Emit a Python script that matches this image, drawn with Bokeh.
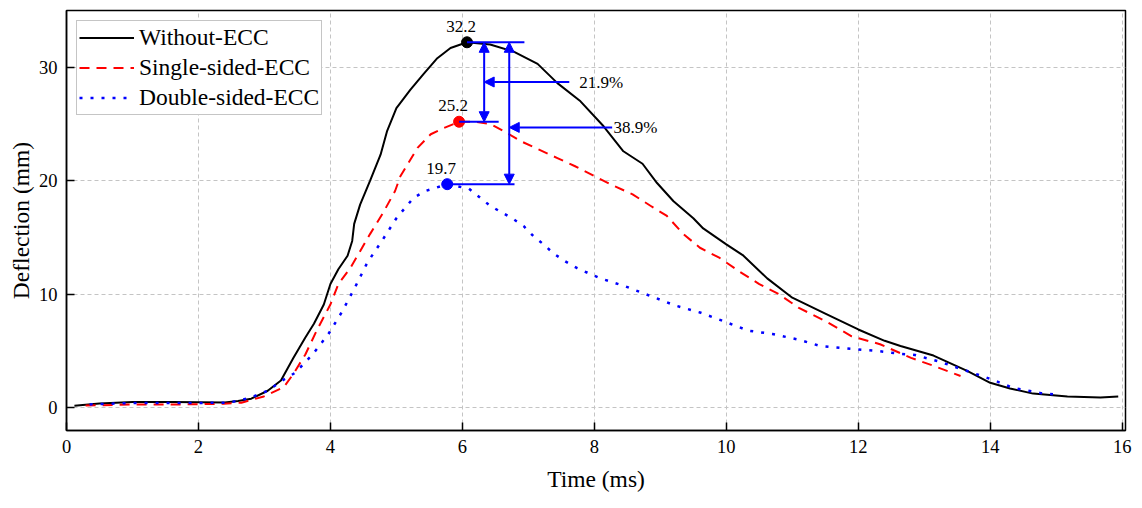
from bokeh.plotting import figure
from bokeh.models import Range1d, FixedTicker, Arrow, NormalHead, Label
from bokeh.embed import file_html
from bokeh.resources import INLINE

FONT = "Liberation Serif"

# ---- data ----
t_without = [0.12, 0.5, 1.0, 1.6, 2.4, 2.6, 2.8, 3.05, 3.25, 3.44, 3.62, 3.75, 3.9, 4.0, 4.12,
             4.26, 4.33, 4.36, 4.45, 4.6, 4.76, 4.86, 5.0, 5.21, 5.41, 5.62, 5.82, 6.07, 6.42,
             6.77, 7.14, 7.44, 7.79, 8.14, 8.44, 8.73, 8.95, 9.2, 9.5, 9.65, 10.0, 10.26, 10.62,
             11.0, 11.5, 12.0, 12.4, 12.64, 13.14, 13.65, 14.0, 14.3, 14.65, 15.17, 15.67, 15.94]
d_without = [0.18, 0.38, 0.52, 0.52, 0.47, 0.6, 0.8, 1.5, 2.4, 4.4, 6.2, 7.4, 9.1, 10.9, 12.2,
             13.4, 14.7, 16.2, 17.9, 20.0, 22.3, 24.4, 26.4, 28.0, 29.4, 30.8, 31.7, 32.2, 32.0,
             31.4, 30.3, 28.6, 27.0, 24.8, 22.6, 21.5, 19.8, 18.2, 16.7, 15.8, 14.4, 13.4, 11.4,
             9.7, 8.3, 6.9, 5.9, 5.45, 4.6, 3.25, 2.2, 1.7, 1.25, 1.0, 0.9, 1.0]

t_single = [0.29, 1.03, 1.8, 2.38, 2.65, 2.99, 3.29, 3.44, 3.62, 3.8, 4.0, 4.12, 4.3, 4.45, 4.6,
            4.8, 4.98, 5.06, 5.32, 5.52, 5.7, 5.95, 6.2, 6.42, 6.62, 6.88, 7.14, 7.44, 7.7, 8.24,
            8.58, 8.85, 9.1, 9.35, 9.6, 9.9, 10.2, 10.5, 10.8, 11.1, 11.5, 11.9, 12.33, 12.8,
            13.14, 13.55]
d_single = [0.2, 0.3, 0.3, 0.35, 0.45, 1.0, 1.8, 3.0, 4.7, 6.9, 9.1, 10.9, 12.3, 13.8, 15.3,
            17.2, 19.1, 20.4, 22.9, 24.1, 24.6, 25.2, 25.2, 25.0, 24.4, 23.5, 22.8, 22.0, 21.3, 19.7,
            18.8, 17.8, 16.9, 15.3, 14.1, 13.2, 12.0, 10.9, 10.0, 8.8, 7.65, 6.3, 5.6, 4.4,
            3.7, 2.8]

t_double = [0.35, 1.0, 1.8, 2.4, 2.6, 2.79, 3.05, 3.27, 3.47, 3.73, 3.97, 4.18, 4.38, 4.56, 4.78,
            5.0, 5.26, 5.44, 5.77, 6.1, 6.25, 6.42, 6.6, 6.78, 6.93, 7.08, 7.23, 7.38, 7.56, 7.74,
            8.09, 8.47, 8.85, 9.23, 9.6, 9.95, 10.33, 10.7, 11.1, 11.42, 11.88, 12.3, 12.64, 12.86,
            13.24, 13.62, 14.0, 14.35, 14.76, 14.95]
d_double = [0.3, 0.42, 0.42, 0.45, 0.6, 0.9, 1.5, 2.4, 3.1, 4.7, 6.5, 8.5, 10.7, 12.8, 14.7,
            16.7, 18.5, 19.1, 19.7, 19.3, 18.6, 17.8, 17.2, 16.6, 16.0, 15.1, 14.4, 13.6, 12.9, 12.3,
            11.4, 10.7, 9.85, 9.0, 8.4, 7.65, 6.8, 6.5, 6.0, 5.45, 5.2, 5.0, 4.75, 4.65,
            4.05, 3.3, 2.55, 1.75, 1.3, 1.2]

series_names = ["Without-ECC", "Single-sided-ECC", "Double-sided-ECC"]
series_colors = ["black", "#ff0000", "#0000ff"]
peak_t = [6.07, 5.95, 5.77]
peak_d = [32.2, 25.2, 19.7]
peak_labels = ["32.2", "25.2", "19.7"]
guide_end_t = [6.94, 6.55, 6.79]
reduction_labels = ["21.9%", "38.9%"]
reduction_arrow_t = [6.33, 6.71]
reduction_target_d = [25.2, 19.7]
pointer_d = [28.7, 24.7]
pointer_start_t = [7.62, 8.27]
reduction_label_t = [7.77, 8.29]

x_ticks = [0, 2, 4, 6, 8, 10, 12, 14, 16]
y_ticks = [0, 10, 20, 30]

# ---- figure ----
p = figure(width=1134, height=500, output_backend="svg", toolbar_location=None,
           x_range=Range1d(0, 16.05), y_range=Range1d(-2, 35),
           min_border_left=66, min_border_right=9, min_border_top=10, min_border_bottom=70)
p.background_fill_color = "white"
p.border_fill_color = "white"
p.outline_line_color = "black"
p.outline_line_width = 1.5
p.outline_line_alpha = 1.0

for g in (p.xgrid, p.ygrid):
    g.grid_line_color = "#c4c4c4"
    g.grid_line_dash = "4 3"
    g.grid_line_width = 1
p.xgrid.ticker = FixedTicker(ticks=x_ticks)
p.ygrid.ticker = FixedTicker(ticks=y_ticks)

p.xaxis.ticker = FixedTicker(ticks=x_ticks)
p.yaxis.ticker = FixedTicker(ticks=y_ticks)
p.xaxis.axis_label = "Time (ms)"
p.yaxis.axis_label = "Deflection (mm)"
for ax in (p.xaxis, p.yaxis):
    ax.axis_line_color = "black"
    ax.axis_line_width = 1.5
    ax.major_tick_line_color = "black"
    ax.major_tick_line_width = 1.5
    ax.major_tick_in = 8
    ax.major_tick_out = 0
    ax.minor_tick_line_color = None
    ax.major_label_text_font = FONT
    ax.major_label_text_font_size = "18.5px"
    ax.major_label_text_color = "black"
    ax.axis_label_text_font = FONT
    ax.axis_label_text_font_size = "23.5px"
    ax.axis_label_text_font_style = "normal"
    ax.axis_label_text_color = "black"
p.xaxis.major_label_standoff = 9
p.xaxis.axis_label_standoff = 10
p.yaxis.major_label_standoff = 9
p.yaxis.axis_label_standoff = 2

p.line(t_without, d_without, line_color=series_colors[0], line_width=2,
       legend_label=series_names[0])
p.line(t_single, d_single, line_color=series_colors[1], line_width=2, line_dash="10 7",
       legend_label=series_names[1])
p.line(t_double, d_double, line_color=series_colors[2], line_width=2.5, line_dash="3 8",
       legend_label=series_names[2])

# peak markers and labels
p.scatter(peak_t, peak_d, size=11, marker="circle",
          fill_color=series_colors, line_color=series_colors)
for xt, yd, lab in zip(peak_t, peak_d, peak_labels):
    p.add_layout(Label(x=xt, y=yd, text=lab, text_font=FONT, text_font_size="17px",
                       text_align="center", text_baseline="alphabetic",
                       x_offset=-6, y_offset=16, text_color="black"))

# guide lines
p.segment(peak_t, peak_d, guide_end_t, peak_d, line_color="#0000ff", line_width=2)

for xa, yt, yp, xs, xl, lab in zip(reduction_arrow_t, reduction_target_d, pointer_d,
                                   pointer_start_t, reduction_label_t, reduction_labels):
    p.add_layout(Arrow(x_start=xa, y_start=peak_d[0], x_end=xa, y_end=yt,
                       line_color="#0000ff", line_width=2,
                       start=NormalHead(size=10, fill_color="#0000ff", line_color="#0000ff"),
                       end=NormalHead(size=10, fill_color="#0000ff", line_color="#0000ff")))
    p.add_layout(Arrow(x_start=xs, y_start=yp, x_end=xa, y_end=yp,
                       line_color="#0000ff", line_width=2,
                       end=NormalHead(size=10, fill_color="#0000ff", line_color="#0000ff")))
    p.add_layout(Label(x=xl, y=yp, text=lab, text_font=FONT, text_font_size="17px",
                       text_align="left", text_baseline="middle", text_color="black"))

lg = p.legend[0]
lg.location = "top_left"
lg.margin = 10
lg.padding = 2
lg.spacing = 1
lg.border_line_color = "#8c8c8c"
lg.border_line_width = 1
lg.background_fill_alpha = 1
lg.label_text_font = FONT
lg.label_text_font_size = "23.5px"
lg.label_text_color = "black"
lg.glyph_width = 55
lg.glyph_height = 29
lg.label_height = 29
lg.label_standoff = 5

open("out.html", "w").write(file_html(p, INLINE))
